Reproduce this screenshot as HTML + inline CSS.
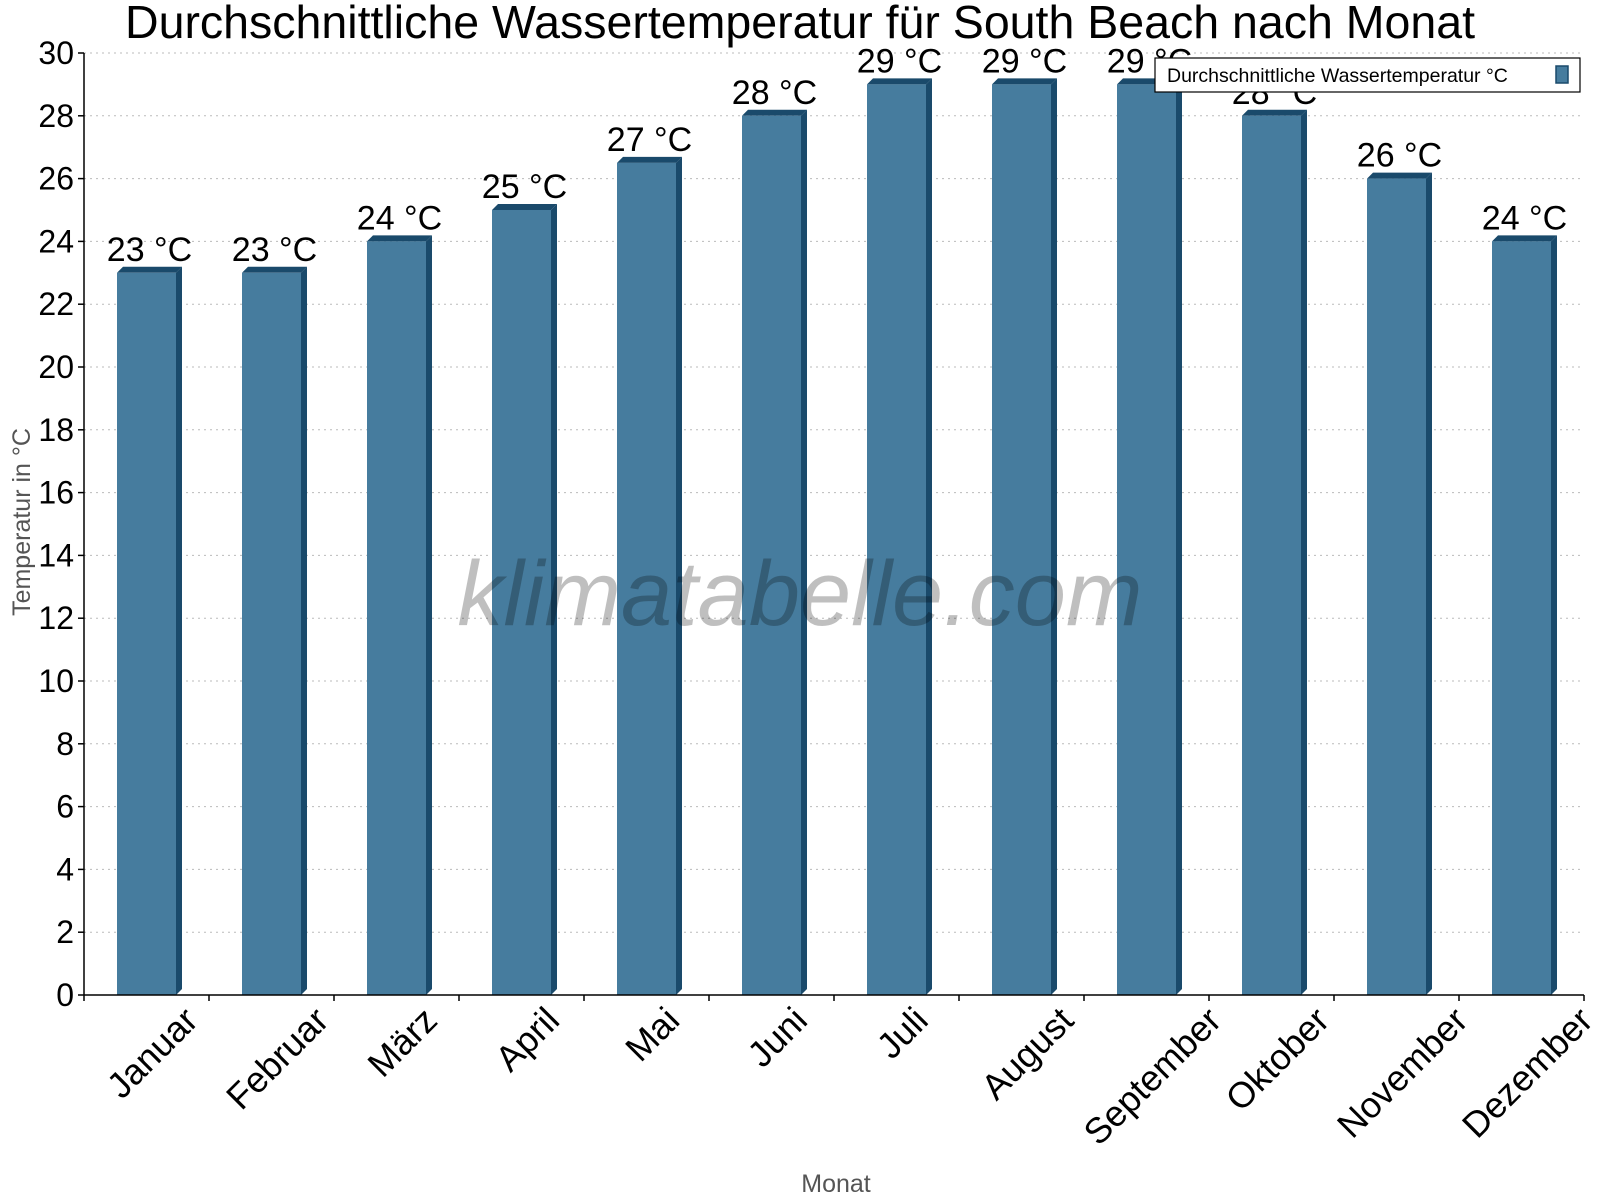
<!DOCTYPE html>
<html><head><meta charset="utf-8"><style>
html,body{margin:0;padding:0;background:#fff;}
svg{display:block;font-family:"Liberation Sans",sans-serif;}
</style></head><body>
<svg id="chart" width="1600" height="1200" viewBox="0 0 1600 1200">
<text x="800" y="38" font-size="46.5" text-anchor="middle" fill="#000">Durchschnittliche Wassertemperatur für South Beach nach Monat</text>
<g id="grid"></g>
<g id="bars"></g>
<text x="800" y="625" font-size="92" font-style="italic" text-anchor="middle" fill="rgba(0,0,0,0.25)">klimatabelle.com</text>
<g id="axes"></g>
<text transform="translate(30,522) rotate(-90)" font-size="25" text-anchor="middle" fill="#555">Temperatur in °C</text>
<text x="836" y="1192" font-size="25" text-anchor="middle" fill="#555">Monat</text>
<g>
<rect x="1155" y="58" width="425" height="34" fill="#fff" stroke="#000" stroke-width="1.2"/>
<text x="1167" y="82" font-size="19.5" fill="#000">Durchschnittliche Wassertemperatur °C</text>
<rect x="1556" y="66" width="12" height="17" fill="#467c9e" stroke="#1a4a6b" stroke-width="1.5"/>
</g>
</svg>
<script>
const categories=["Januar","Februar","März","April","Mai","Juni","Juli","August","September","Oktober","November","Dezember"];
const values=[23,23,24,25,26.5,28,29,29,29,28,26,24];
const valueLabels=["23 °C","23 °C","24 °C","25 °C","27 °C","28 °C","29 °C","29 °C","29 °C","28 °C","26 °C","24 °C"];
const yTicks=[0,2,4,6,8,10,12,14,16,18,20,22,24,26,28,30];
const NS="http://www.w3.org/2000/svg";
const X0=84,X1=1584,Y0=995,Y1=53,YMAX=30;
const bw=(X1-X0)/categories.length;
const y=v=>Y0-(v/YMAX)*(Y0-Y1);
const xs=i=>X0+i*bw;
function mk(tag,attrs,parent){const e=document.createElementNS(NS,tag);for(const k in attrs)e.setAttribute(k,attrs[k]);parent.appendChild(e);return e;}
const grid=document.getElementById('grid'),bars=document.getElementById('bars'),axes=document.getElementById('axes');
yTicks.forEach(t=>{
 if(t>0){const g=mk('line',{x1:X0,x2:X1,y1:y(t),y2:y(t),stroke:'#bbb','stroke-dasharray':'2,4','stroke-width':1},grid);
 
 }
 const tk=mk('line',{x1:X0-6,x2:X0,y1:y(t),y2:y(t),stroke:'#000','stroke-width':1.5},axes);
 
 
 const tl=mk('text',{x:X0-10,y:y(t)+11,'font-size':32,'text-anchor':'end',fill:'#000'},axes);
 tl.textContent=t;
 
 
});
mk('line',{x1:X0,x2:X0,y1:Y1,y2:Y0,stroke:'#000','stroke-width':1.5},axes);
mk('line',{x1:X0,x2:X1,y1:Y0,y2:Y0,stroke:'#000','stroke-width':1.5},axes);
for(let i=0;i<=categories.length;i++){
 const t=mk('line',{x1:xs(i),x2:xs(i),y1:Y0,y2:Y0+6,stroke:'#000','stroke-width':1.5},axes);
 
 
}
const d=6;
categories.forEach((c,i)=>{
 const bx=xs(i)+33,w=59,top=y(values[i]);
 const g=mk('g',{},bars);
 
 
 mk('polygon',{points:`${bx+w},${top} ${bx+w+d},${top-d} ${bx+w+d},${Y0-d} ${bx+w},${Y0}`,fill:'#1a4a6b'},g);
 mk('polygon',{points:`${bx},${top} ${bx+d},${top-d} ${bx+w+d},${top-d} ${bx+w},${top}`,fill:'#1a4a6b'},g);
 mk('rect',{x:bx,y:top,width:w,height:Y0-top,fill:'#467c9e'},g);
 const vl=mk('text',{x:bx+w/2+3,y:top-12,'font-size':34,'text-anchor':'middle',fill:'#000'},bars);
 vl.textContent=valueLabels[i];
 
 
 const xl=mk('text',{x:0,y:0,'font-size':36,'text-anchor':'middle',fill:'#000'},axes);
 xl.textContent=c;
 
 
 const L=xl.getComputedTextLength();
 const cx=xs(i)+bw/2+6,cy=1014+L*0.354;
 xl.setAttribute('x',cx);
 xl.setAttribute('y',cy+12);
 xl.setAttribute('transform',`rotate(-45 ${cx} ${cy})`);
});
</script>
</body></html>
